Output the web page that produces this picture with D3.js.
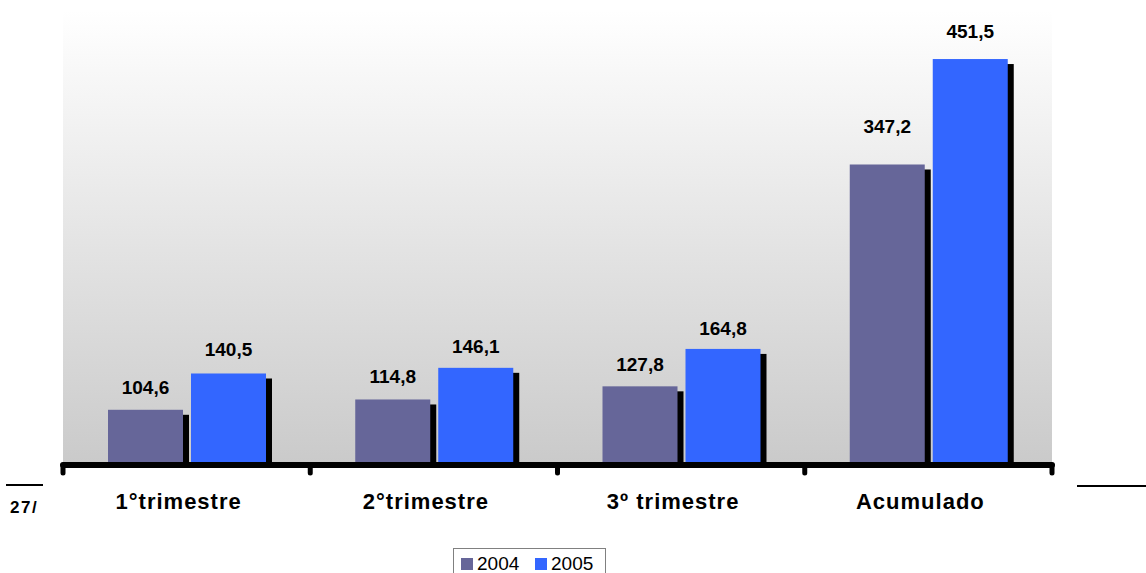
<!DOCTYPE html>
<html>
<head>
<meta charset="utf-8">
<script src="https://cdn.jsdelivr.net/npm/d3@7"></script>
<style>
  html, body { margin: 0; padding: 0; background: #fff; }
  svg { display: block; }
  text { font-family: "Liberation Sans", Arial, sans-serif; }
</style>
</head>
<body>
<svg id="chart" width="1146" height="573"></svg>
<script>
// Data
const categories = ["1°trimestre", "2°trimestre", "3º trimestre", "Acumulado"];
const seriesNames = ["2004", "2005"];
const values2004 = [104.6, 114.8, 127.8, 347.2];
const values2005 = [140.5, 146.1, 164.8, 451.5];
const valueLabels2004 = ["104,6", "114,8", "127,8", "347,2"];
const valueLabels2005 = ["140,5", "146,1", "164,8", "451,5"];

const colors = { "2004": "#666699", "2005": "#3366FF" };
// vertical gap between each value label and the top of its bar
const labelLift = { "2004": [16, 16, 15, 31], "2005": [17, 15, 14, 21] };

const svg = d3.select("#chart");
const plot = { left: 63, right: 1052, top: 10, bottom: 465 };

const x0 = d3.scaleBand().domain(categories).range([plot.left, plot.right]);
const x1 = d3.scaleBand().domain(seriesNames).range([45, 203]).paddingInner(0.0964);
const y = d3.scaleLinear().domain([50, 500]).range([plot.bottom, plot.top]);

// Background gradient of the plot area
const defs = svg.append("defs");
const grad = defs.append("linearGradient")
  .attr("id", "bg").attr("x1", 0).attr("y1", 0).attr("x2", 0).attr("y2", 1);
grad.append("stop").attr("offset", "0%").attr("stop-color", "#ffffff");
grad.append("stop").attr("offset", "100%").attr("stop-color", "#cacaca");

svg.append("rect")
  .attr("x", plot.left).attr("y", plot.top)
  .attr("width", plot.right - plot.left).attr("height", plot.bottom - plot.top)
  .attr("fill", "url(#bg)");

// Bars with drop shadows
const rows = categories.map((c, i) => ({
  cat: c,
  items: [
    { s: "2004", v: values2004[i], label: valueLabels2004[i], lift: labelLift["2004"][i] },
    { s: "2005", v: values2005[i], label: valueLabels2005[i], lift: labelLift["2005"][i] }
  ]
}));

const groups = svg.append("g").selectAll("g")
  .data(rows).join("g")
  .attr("transform", d => `translate(${x0(d.cat)},0)`);

groups.selectAll("rect.shadow")
  .data(d => d.items).join("rect")
  .attr("class", "shadow")
  .attr("x", d => x1(d.s) + 6)
  .attr("y", d => y(d.v) + 5)
  .attr("width", x1.bandwidth())
  .attr("height", d => plot.bottom - y(d.v) - 5)
  .attr("fill", "#000");

groups.selectAll("rect.bar")
  .data(d => d.items).join("rect")
  .attr("class", "bar")
  .attr("x", d => x1(d.s))
  .attr("y", d => y(d.v))
  .attr("width", x1.bandwidth())
  .attr("height", d => plot.bottom - y(d.v))
  .attr("fill", d => colors[d.s]);

groups.selectAll("text.val")
  .data(d => d.items).join("text")
  .attr("class", "val")
  .attr("x", d => x1(d.s) + x1.bandwidth() / 2)
  .attr("y", d => y(d.v) - d.lift)
  .attr("text-anchor", "middle")
  .attr("font-size", 19)
  .attr("font-weight", "bold")
  .attr("fill", "#000")
  .text(d => d.label);

// Category axis: thick baseline with rounded ticks at band boundaries
const bounds = categories.map(c => x0(c)).concat([plot.right]);
const axisG = svg.append("g");
axisG.selectAll("line.tick")
  .data(bounds).join("line")
  .attr("x1", d => d).attr("x2", d => d)
  .attr("y1", plot.bottom).attr("y2", 473)
  .attr("stroke", "#000").attr("stroke-width", 5).attr("stroke-linecap", "round");
axisG.append("line")
  .attr("x1", plot.left).attr("x2", plot.right)
  .attr("y1", plot.bottom).attr("y2", plot.bottom)
  .attr("stroke", "#000").attr("stroke-width", 6).attr("stroke-linecap", "round");

const xAxis = d3.axisBottom(x0).tickSize(0).tickPadding(0);
const xg = svg.append("g").attr("transform", `translate(0,${plot.bottom})`).call(xAxis);
xg.select(".domain").remove();
xg.selectAll("text")
  .attr("dy", 0)
  .attr("y", 44)
  .attr("x", -8)
  .attr("font-size", 22)
  .attr("font-weight", "bold")
  .attr("letter-spacing", 1)
  .attr("fill", "#000")
  .attr("font-family", "'Liberation Sans', Arial, sans-serif");

// Page decorations
svg.append("line").attr("x1", 6).attr("x2", 43).attr("y1", 485).attr("y2", 485)
  .attr("stroke", "#000").attr("stroke-width", 2);
svg.append("line").attr("x1", 1077).attr("x2", 1146).attr("y1", 486).attr("y2", 486)
  .attr("stroke", "#000").attr("stroke-width", 2);
defs.append("clipPath").attr("id", "pgclip")
  .append("rect").attr("x", 0).attr("y", 490).attr("width", 42).attr("height", 30);
svg.append("text")
  .attr("clip-path", "url(#pgclip)")
  .attr("x", 10).attr("y", 513)
  .attr("font-size", 17).attr("font-weight", "bold")
  .attr("letter-spacing", 1.5)
  .text("27/");

// Legend
const legend = svg.append("g");
legend.append("rect")
  .attr("x", 453.5).attr("y", 548.5).attr("width", 152).attr("height", 40)
  .attr("fill", "#fff").attr("stroke", "#808080").attr("stroke-width", 1);
const legendX = d3.scaleOrdinal().domain(seriesNames).range([461, 535]);
const li = legend.selectAll("g.item").data(seriesNames).join("g")
  .attr("transform", d => `translate(${legendX(d)},0)`);
li.append("rect").attr("x", 0).attr("y", 558).attr("width", 12).attr("height", 12)
  .attr("fill", d => colors[d]);
li.append("text").attr("x", 16).attr("y", 570)
  .attr("font-size", 19).attr("fill", "#000")
  .text(d => d);
</script>
</body>
</html>
